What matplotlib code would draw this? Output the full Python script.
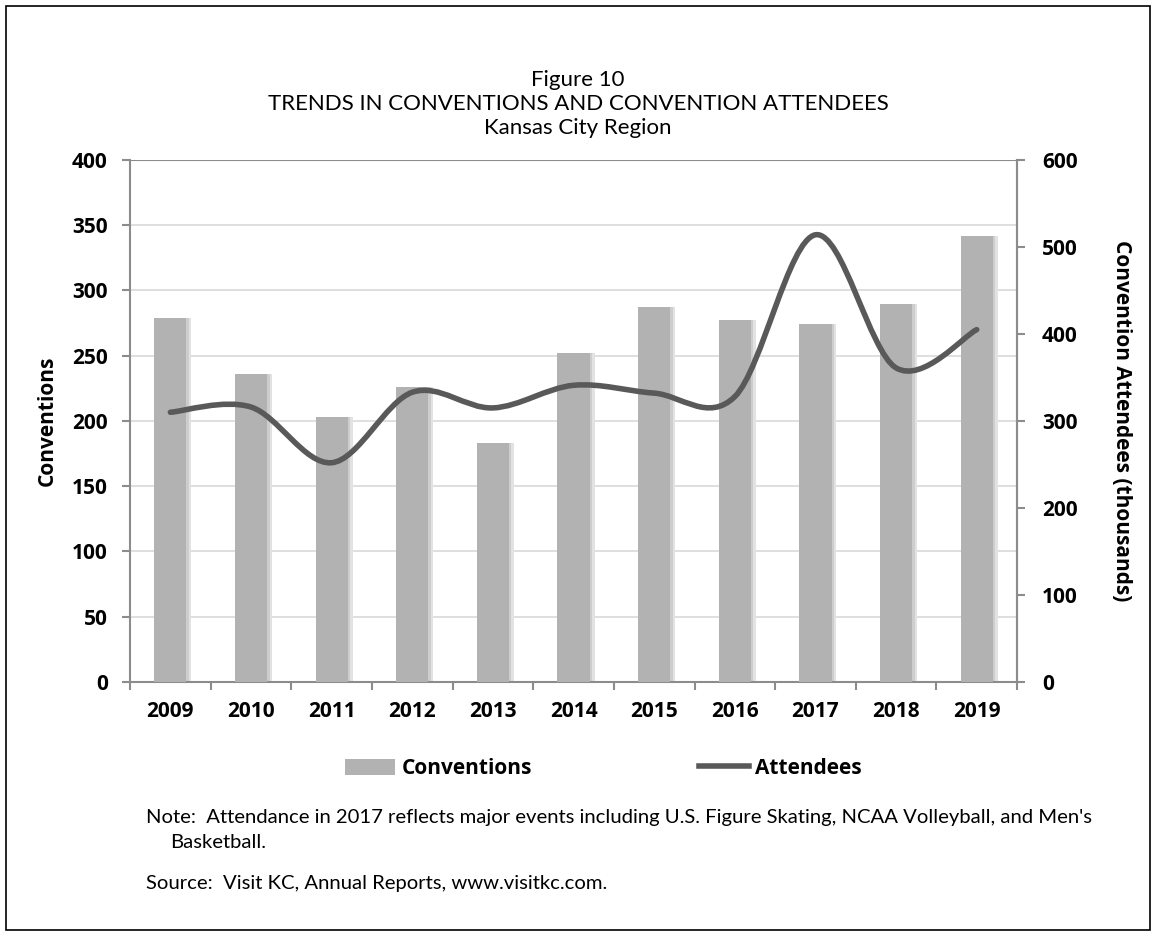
import numpy as np
import matplotlib
matplotlib.use("Agg")
import matplotlib.pyplot as plt
from matplotlib.path import Path
from matplotlib.patches import PathPatch, Rectangle
from matplotlib.lines import Line2D
from matplotlib.patches import Patch

# data
years = ["2009", "2010", "2011", "2012", "2013", "2014",
         "2015", "2016", "2017", "2018", "2019"]
conventions = [279, 236, 203, 226, 183, 252, 287, 277, 274, 290, 342]
attendees = [310, 316, 252, 333, 315, 341, 332, 328, 514, 361, 405]  # thousands

title_lines = ["Figure 10",
               "TRENDS IN CONVENTIONS AND CONVENTION ATTENDEES",
               "Kansas City Region"]
note_1 = "Note:  Attendance in 2017 reflects major events including U.S. Figure Skating, NCAA Volleyball, and Men's"
note_2 = "Basketball."
source = "Source:  Visit KC, Annual Reports, www.visitkc.com."

BAR = "#b2b2b2"
LINE = "#595959"
AXIS = "#8c8c8c"
GRID = "#d9d9d9"

TXT_FONT = ["Lato", "DejaVu Sans"]
BOLD_FONT = ["Open Sans", "DejaVu Sans"]
BOLD_SIZE = 15


def smooth_path(xs, ys):
    """Excel-style smoothed line: cubic bezier through the points"""
    pts = np.column_stack([xs, ys]).astype(float)
    n = len(pts)
    verts = [pts[0]]
    codes = [Path.MOVETO]
    for i in range(n - 1):
        p0 = pts[i - 1] if i > 0 else pts[i]
        p1 = pts[i]
        p2 = pts[i + 1]
        p3 = pts[i + 2] if i + 2 < n else pts[i + 1]
        c1 = p1 + (p2 - p0) / 6.0
        c2 = p2 - (p3 - p1) / 6.0
        verts += [c1, c2, p2]
        codes += [Path.CURVE4] * 3
    return Path(verts, codes)


fig = plt.figure(figsize=(11.56, 9.36), dpi=100)
fig.patches.append(Rectangle((0.005, 0.006), 0.99, 0.988, transform=fig.transFigure,
                             fill=False, edgecolor="black", linewidth=1.2))

ax = fig.add_axes([0.1125, 0.2714, 0.7673, 0.5577])
ax2 = ax.twinx()

x = np.arange(len(years))
# soft shadow on the right of each bar
ax.bar(x + 0.06, conventions, width=0.40, color="#e2e2e2", zorder=2)
ax.bar(x + 0.03, conventions, width=0.40, color="#cdcdcd", zorder=2)
ax.bar(x, conventions, width=0.40, color=BAR, zorder=3)

ax.set_xlim(-0.5, len(years) - 0.5)
ax.set_ylim(0, 400)
ax.set_yticks(range(0, 401, 50))
ax.yaxis.grid(True, color=GRID, linewidth=1.2, zorder=0)
ax.set_axisbelow(True)
ax.set_xticks(x)
ax.set_xticklabels(years)
ax.set_xticks(np.arange(-0.5, len(years), 1.0), minor=True)
ax.tick_params(axis="x", which="major", length=0, pad=14)
ax.tick_params(axis="x", which="minor", length=6, color=AXIS, width=1.5)
ax.tick_params(axis="y", length=6, color=AXIS, width=1.5, pad=10)

ax2.set_ylim(0, 600)
ax2.set_yticks(range(0, 601, 100))
ax2.tick_params(axis="y", length=6, color=AXIS, width=1.5, pad=12)
ax2.add_patch(PathPatch(smooth_path(x, attendees), fill=False,
                        edgecolor=LINE, linewidth=4, capstyle="round", zorder=5))

for a in (ax, ax2):
    a.spines["top"].set_visible(False)
    for s in ("left", "right", "bottom"):
        a.spines[s].set_color(AXIS)
        a.spines[s].set_linewidth(1.5)
    for lab in a.get_yticklabels() + a.get_xticklabels():
        lab.set_family(BOLD_FONT)
        lab.set_fontweight("bold")
        lab.set_fontsize(BOLD_SIZE)
ax2.spines["left"].set_visible(False)
ax2.spines["bottom"].set_visible(False)
ax.axhline(400, color=AXIS, linewidth=1.5, zorder=1)

ax.set_ylabel("Conventions", family=BOLD_FONT, fontweight="bold",
              fontsize=BOLD_SIZE, labelpad=10)
ax2.set_ylabel("Convention Attendees (thousands)", family=BOLD_FONT, fontweight="bold",
               fontsize=BOLD_SIZE, rotation=270, labelpad=39)

handles = [Patch(facecolor=BAR, edgecolor="none"),
           Line2D([], [], color=LINE, linewidth=4)]
fig.legend(handles, ["Conventions", "Attendees"], loc="center",
           bbox_to_anchor=(0.522, 0.179), ncol=2, frameon=False, columnspacing=8.0,
           handlelength=2.4, handleheight=0.8, handletextpad=0.3,
           prop={"family": BOLD_FONT, "weight": "bold", "size": BOLD_SIZE})

for i, line in enumerate(title_lines):
    fig.text(0.5, 1 - (80 + i * 24) / 936, line, ha="center", va="center",
             family=TXT_FONT, fontsize=16)

fig.text(146 / 1156, 1 - 817 / 936, note_1, va="center", family=TXT_FONT, fontsize=14.6)
fig.text(170 / 1156, 1 - 842 / 936, note_2, va="center", family=TXT_FONT, fontsize=14.6)
fig.text(146 / 1156, 1 - 884 / 936, source, va="center", family=TXT_FONT, fontsize=14.6)

fig.savefig("out.png", dpi=100)
